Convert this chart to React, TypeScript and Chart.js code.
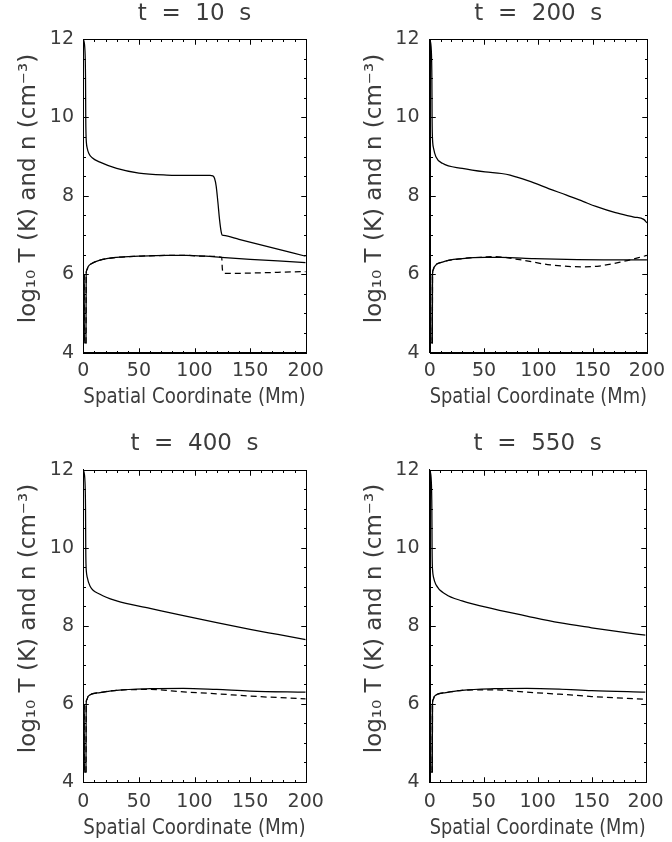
import React, { useEffect, useRef } from 'react';
import { Chart, registerables } from 'chart.js';
Chart.register(...registerables);

// ---------- text ----------
const PANEL_TITLES = ['t  =  10  s', 't  =  200  s', 't  =  400  s', 't  =  550  s'];
const X_LABEL = 'Spatial Coordinate (Mm)';
const Y_LABEL = '  log₁₀ T (K) and n (cm⁻³)';

// ---------- axes ----------
const X_MIN = 0;
const X_MAX = 200;
const Y_MIN = 4;
const Y_MAX = 12;
const X_MAJOR_STEP = 50;
const X_MINOR_STEP = 10;
const Y_MAJOR_STEP = 2;
const Y_MINOR_STEP = 0.5;

// ---------- data: t = 10 s ----------
const t10_densX = [0, 1.5, 2.0, 2.2, 2.4, 2.8, 3.5, 5, 8, 15, 30, 50, 75, 100, 114, 116.5, 118, 119.5, 121, 122.5, 124, 124.8, 126, 140, 165, 200];
const t10_densY = [12.0, 11.7, 11.0, 10.0, 9.6, 9.35, 9.22, 9.08, 8.97, 8.86, 8.70, 8.58, 8.53, 8.52, 8.52, 8.51, 8.45, 8.25, 7.85, 7.40, 7.08, 7.00, 6.99, 6.89, 6.71, 6.46];
const t10_tempX = [0.8, 0.9, 2.4, 2.6, 3.0, 4.5, 8, 15, 30, 50, 75, 93, 110, 124, 150, 175, 200];
const t10_tempY = [6.0, 4.25, 4.25, 6.0, 6.1, 6.2, 6.28, 6.36, 6.43, 6.46, 6.48, 6.48, 6.46, 6.43, 6.38, 6.34, 6.30];
const t10_dashX = [0.8, 0.9, 2.4, 2.6, 3.0, 4.5, 8, 15, 30, 50, 75, 93, 110, 124.5, 125, 126, 127, 150, 175, 200];
const t10_dashY = [6.0, 4.25, 4.25, 6.0, 6.1, 6.2, 6.28, 6.36, 6.43, 6.46, 6.48, 6.48, 6.46, 6.43, 6.15, 6.04, 6.02, 6.03, 6.05, 6.07];

// ---------- data: t = 200 s ----------
const t200_densX = [0, 1.5, 2.0, 2.2, 2.4, 2.8, 3.5, 5.7, 11.7, 30, 51, 66, 74, 81, 96, 110, 126, 141, 153, 171, 188, 197, 200];
const t200_densY = [12.0, 11.7, 11.0, 10.0, 9.6, 9.35, 9.22, 9.0, 8.83, 8.70, 8.61, 8.57, 8.53, 8.47, 8.33, 8.18, 8.02, 7.86, 7.73, 7.57, 7.46, 7.40, 7.31];
const t200_tempX = [0.8, 0.9, 2.4, 2.6, 3.0, 4.2, 11.7, 30, 51, 66, 96, 126, 160, 200];
const t200_tempY = [6.0, 4.25, 4.25, 6.0, 6.1, 6.19, 6.31, 6.40, 6.43, 6.43, 6.40, 6.38, 6.37, 6.37];
const t200_dashX = [0.8, 0.9, 2.4, 2.6, 3.0, 4.2, 11.7, 30, 51, 60, 81, 111, 141, 156, 177, 200];
const t200_dashY = [6.0, 4.25, 4.25, 6.0, 6.1, 6.19, 6.31, 6.40, 6.44, 6.45, 6.38, 6.24, 6.19, 6.21, 6.32, 6.48];

// ---------- data: t = 400 s ----------
const t400_densX = [0, 1.5, 2.0, 2.2, 2.4, 2.8, 3.5, 6, 15, 30, 60, 90, 120, 150, 175, 200];
const t400_densY = [12.0, 11.7, 11.0, 10.0, 9.6, 9.38, 9.25, 9.02, 8.81, 8.64, 8.45, 8.26, 8.08, 7.91, 7.78, 7.65];
const t400_tempX = [0.8, 0.9, 2.4, 2.6, 3.0, 4.5, 15, 30, 60, 90, 120, 150, 200];
const t400_tempY = [6.0, 4.25, 4.25, 6.0, 6.1, 6.2, 6.29, 6.35, 6.39, 6.40, 6.37, 6.33, 6.30];
const t400_dashX = [0.8, 0.9, 2.4, 2.6, 3.0, 4.5, 15, 30, 60, 90, 120, 150, 200];
const t400_dashY = [6.0, 4.25, 4.25, 6.0, 6.1, 6.2, 6.29, 6.35, 6.37, 6.31, 6.26, 6.20, 6.13];

// ---------- data: t = 550 s ----------
const t550_densX = [0, 1.5, 2.0, 2.2, 2.4, 2.8, 3.5, 5.7, 14.8, 30, 60, 90, 120, 150, 175, 200];
const t550_densY = [12.0, 11.7, 11.0, 10.0, 9.6, 9.38, 9.25, 9.06, 8.81, 8.64, 8.43, 8.25, 8.08, 7.95, 7.85, 7.76];
const t550_tempX = [0.8, 0.9, 2.4, 2.6, 3.0, 4.5, 15, 30, 60, 90, 120, 150, 200];
const t550_tempY = [6.0, 4.25, 4.25, 6.0, 6.1, 6.2, 6.29, 6.35, 6.39, 6.40, 6.38, 6.34, 6.30];
const t550_dashX = [0.8, 0.9, 2.4, 2.6, 3.0, 4.5, 15, 30, 60, 90, 120, 150, 200];
const t550_dashY = [6.0, 4.25, 4.25, 6.0, 6.1, 6.2, 6.29, 6.35, 6.36, 6.30, 6.25, 6.19, 6.12];

const SERIES = [
  { densX: t10_densX, densY: t10_densY, tempX: t10_tempX, tempY: t10_tempY, dashX: t10_dashX, dashY: t10_dashY },
  { densX: t200_densX, densY: t200_densY, tempX: t200_tempX, tempY: t200_tempY, dashX: t200_dashX, dashY: t200_dashY },
  { densX: t400_densX, densY: t400_densY, tempX: t400_tempX, tempY: t400_tempY, dashX: t400_dashX, dashY: t400_dashY },
  { densX: t550_densX, densY: t550_densY, tempX: t550_tempX, tempY: t550_tempY, dashX: t550_dashX, dashY: t550_dashY },
];

// ---------- layout (pixels, relative to each canvas) ----------
const LAYOUT = [
  { x: 0, y: 0, w: 336, h: 421, l: 83.3, r: 305.7, t: 39, b: 352.7, titleCY: 13, xTickCY: 371, xTitleCY: 398, yTickRight: 74, yTitleCX: 29 },
  { x: 336, y: 0, w: 336, h: 421, l: 93.7, r: 315, t: 39, b: 352.7, titleCY: 13, xTickCY: 371, xTitleCY: 398, yTickRight: 83.5, yTitleCX: 39 },
  { x: 0, y: 421, w: 336, h: 421, l: 83.3, r: 305.7, t: 48.7, b: 361, titleCY: 22.7, xTickCY: 380.7, xTitleCY: 407.5, yTickRight: 74, yTitleCX: 29 },
  { x: 336, y: 421, w: 336, h: 421, l: 93.7, r: 315, t: 48.7, b: 361, titleCY: 22.7, xTickCY: 380.7, xTitleCY: 407.5, yTickRight: 83.5, yTitleCX: 39 },
];

const FAMILY = "'DejaVu Sans', sans-serif";
const TEXT_COLOR = '#3c3c3c';
const LINE_COLOR = '#000000';
const MAJOR_LEN = 5;
const MINOR_LEN = 2.5;
const TITLE_SIZE = 23;
const TICK_SIZE = 19;
const X_TITLE_SIZE = 21;
const Y_TITLE_SIZE = 23;
const LH = 1.2;

function zip(xs: number[], ys: number[]) {
  return xs.map((x, i) => ({ x, y: ys[i] }));
}

function isMultiple(v: number, step: number) {
  const q = v / step;
  return Math.abs(q - Math.round(q)) < 1e-6;
}

// Builds the frame and inward tick marks (all four sides) from the chart's own scales.
function framePath(chart: any): Path2D | null {
  const xs = chart.scales.x;
  const ys = chart.scales.y;
  if (!xs || !ys) return null;
  const px = (v: number) => Math.round(xs.getPixelForValue(v)) + 0.5;
  const py = (v: number) => Math.round(ys.getPixelForValue(v)) + 0.5;
  const left = px(X_MIN);
  const right = px(X_MAX);
  const top = py(Y_MAX);
  const bottom = py(Y_MIN);
  const path = new Path2D();
  path.moveTo(left, top);
  path.lineTo(right, top);
  path.lineTo(right, bottom);
  path.lineTo(left, bottom);
  path.closePath();
  const nx = Math.round((X_MAX - X_MIN) / X_MINOR_STEP);
  for (let k = 0; k <= nx; k++) {
    const v = X_MIN + k * X_MINOR_STEP;
    const len = isMultiple(v, X_MAJOR_STEP) ? MAJOR_LEN : MINOR_LEN;
    const p = px(v);
    path.moveTo(p, bottom);
    path.lineTo(p, bottom - len);
    path.moveTo(p, top);
    path.lineTo(p, top + len);
  }
  const ny = Math.round((Y_MAX - Y_MIN) / Y_MINOR_STEP);
  for (let k = 0; k <= ny; k++) {
    const v = Y_MIN + k * Y_MINOR_STEP;
    const len = isMultiple(v, Y_MAJOR_STEP) ? MAJOR_LEN : MINOR_LEN;
    const p = py(v);
    path.moveTo(left, p);
    path.lineTo(left + len, p);
    path.moveTo(right, p);
    path.lineTo(right - len, p);
  }
  return path;
}

function strokeFrame(chart: any) {
  const ctx = chart.ctx;
  const path = framePath(chart);
  if (!ctx || !path) return;
  ctx.save();
  ctx.globalAlpha = 1;
  ctx.globalCompositeOperation = 'source-over';
  ctx.strokeStyle = LINE_COLOR;
  ctx.lineWidth = 1;
  ctx.lineCap = 'butt';
  ctx.setLineDash([]);
  ctx.stroke(path);
  ctx.restore();
}

const frameTicksPlugin = {
  id: 'frameTicks',
  afterDatasetsDraw(chart: any) {
    strokeFrame(chart);
  },
  afterDraw(chart: any) {
    strokeFrame(chart);
  },
};

function buildConfig(i: number): any {
  const L = LAYOUT[i];
  const S = SERIES[i];
  const titleLine = TITLE_SIZE * LH;
  const titlePadTop = Math.max(0, L.titleCY - titleLine / 2);
  const titlePadBottom = L.t - titleLine - titlePadTop;
  const tickLine = TICK_SIZE * LH;
  const xTickPad = L.xTickCY - L.b - tickLine / 2;
  const xTitleLine = X_TITLE_SIZE * LH;
  const yTitleLine = Y_TITLE_SIZE * LH;
  const xTitlePad = L.h - L.xTitleCY - xTitleLine / 2;
  const yTickPad = L.l - L.yTickRight;
  const yTitlePad = L.yTitleCX - yTitleLine / 2;
  const tickFont = { family: FAMILY, size: TICK_SIZE };
  const xTitleFont = { family: FAMILY, size: X_TITLE_SIZE, lineHeight: LH };
  const yTitleFont = { family: FAMILY, size: Y_TITLE_SIZE, lineHeight: LH };

  const lineBase = {
    borderColor: LINE_COLOR,
    borderWidth: 1.25,
    pointRadius: 0,
    fill: false,
    cubicInterpolationMode: 'monotone',
  };

  return {
    type: 'line',
    data: {
      datasets: [
        { ...lineBase, data: zip(S.densX, S.densY) },
        { ...lineBase, data: zip(S.tempX, S.tempY) },
        { ...lineBase, data: zip(S.dashX, S.dashY), borderDash: [6, 4] },
      ],
    },
    plugins: [frameTicksPlugin],
    options: {
      responsive: false,
      animation: false,
      events: [],
      layout: { padding: { left: 0, top: 0, bottom: 0, right: L.w - L.r } },
      plugins: {
        legend: { display: false },
        tooltip: { enabled: false },
        title: {
          display: true,
          text: PANEL_TITLES[i],
          fullSize: false,
          color: TEXT_COLOR,
          font: { family: FAMILY, size: TITLE_SIZE, lineHeight: LH, weight: 'normal' },
          padding: { top: titlePadTop, bottom: titlePadBottom },
        },
      },
      scales: {
        x: {
          type: 'linear',
          position: 'bottom',
          min: X_MIN,
          max: X_MAX,
          ticks: { stepSize: X_MAJOR_STEP, font: tickFont, color: TEXT_COLOR, padding: xTickPad, maxRotation: 0, autoSkip: false },
          grid: { display: false, drawTicks: false },
          border: { display: true, color: LINE_COLOR, width: 1 },
          title: { display: true, text: X_LABEL, color: TEXT_COLOR, font: xTitleFont, padding: { top: 0, bottom: xTitlePad } },
          afterFit: (s: any) => { s.height = L.h - L.b; },
        },
        y: {
          type: 'linear',
          position: 'left',
          min: Y_MIN,
          max: Y_MAX,
          ticks: { stepSize: Y_MAJOR_STEP, font: tickFont, color: TEXT_COLOR, padding: yTickPad, autoSkip: false },
          grid: { display: false, drawTicks: false },
          border: { display: true, color: LINE_COLOR, width: 1 },
          title: { display: true, text: Y_LABEL, color: TEXT_COLOR, font: yTitleFont, padding: { top: yTitlePad, bottom: 0 } },
          afterFit: (s: any) => { s.width = L.l; },
        },
      },
    },
  };
}

export default function App() {
  const r0 = useRef<HTMLCanvasElement>(null);
  const r1 = useRef<HTMLCanvasElement>(null);
  const r2 = useRef<HTMLCanvasElement>(null);
  const r3 = useRef<HTMLCanvasElement>(null);
  const refs = [r0, r1, r2, r3];

  useEffect(() => {
    const charts = refs.map((r, i) => new Chart(r.current as HTMLCanvasElement, buildConfig(i)));
    return () => charts.forEach((c) => c.destroy());
  }, []);

  return (
    <div style={{ position: 'fixed', left: 0, top: 0, width: 672, height: 842, background: '#ffffff', overflow: 'hidden' }}>
      {LAYOUT.map((L, i) => (
        <canvas
          key={i}
          ref={refs[i]}
          width={L.w}
          height={L.h}
          style={{ position: 'absolute', left: L.x, top: L.y, width: L.w, height: L.h, display: 'block' }}
        />
      ))}
    </div>
  );
}
